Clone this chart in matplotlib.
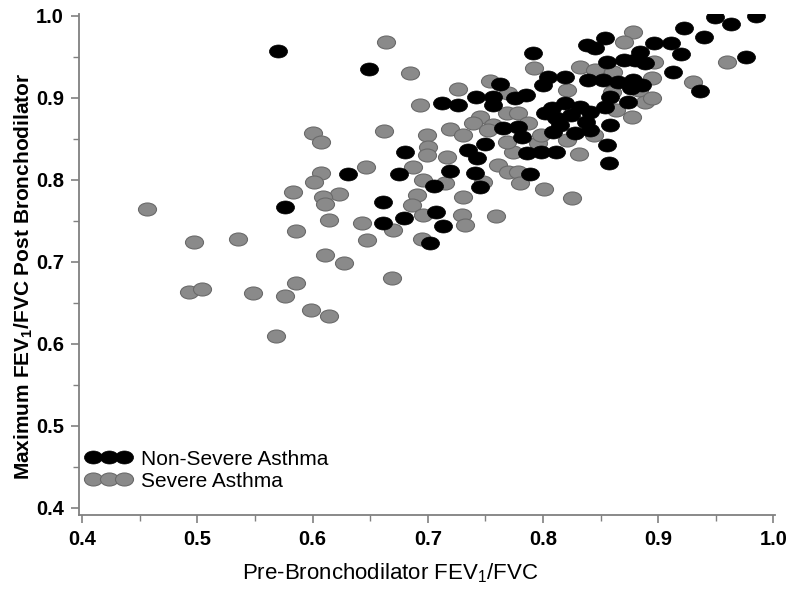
import matplotlib
matplotlib.use("Agg")
import matplotlib.pyplot as plt
import matplotlib.transforms as mtransforms
from matplotlib.path import Path
from matplotlib.ticker import MultipleLocator, FormatStrFormatter

plt.rcParams['font.family'] = ['Liberation Sans', 'DejaVu Sans']
plt.rcParams['mathtext.fontset'] = 'custom'
plt.rcParams['mathtext.rm'] = 'Liberation Sans'
plt.rcParams['mathtext.bf'] = 'Liberation Sans:bold'

# Non-severe asthma (black)
nonsevere_x = [0.570, 0.649, 0.631, 0.675, 0.576, 0.661, 0.661, 0.985, 0.949, 0.963,
               0.922, 0.940, 0.976, 0.920, 0.913, 0.936, 0.896, 0.911, 0.854, 0.838,
               0.845, 0.791, 0.856, 0.870, 0.884, 0.880, 0.889, 0.804, 0.819, 0.800,
               0.839, 0.852, 0.865, 0.878, 0.886, 0.876, 0.858, 0.874, 0.854, 0.763,
               0.757, 0.742, 0.757, 0.785, 0.776, 0.7125, 0.726, 0.808, 0.819, 0.832,
               0.841, 0.811, 0.824, 0.837, 0.815, 0.802, 0.858, 0.765, 0.778, 0.782,
               0.809, 0.828, 0.841, 0.856, 0.857, 0.735, 0.750, 0.743, 0.680, 0.786,
               0.798, 0.811, 0.789, 0.719, 0.741, 0.745, 0.705, 0.707, 0.679, 0.713,
               0.702]
nonsevere_y = [0.957, 0.935, 0.807, 0.807, 0.767, 0.773, 0.748, 1.000, 0.999, 0.990,
               0.985, 0.974, 0.950, 0.954, 0.932, 0.909, 0.967, 0.967, 0.973, 0.965,
               0.961, 0.955, 0.944, 0.946, 0.956, 0.946, 0.943, 0.926, 0.926, 0.916,
               0.922, 0.922, 0.920, 0.922, 0.916, 0.912, 0.901, 0.895, 0.889, 0.917,
               0.901, 0.901, 0.891, 0.904, 0.900, 0.894, 0.891, 0.888, 0.894, 0.889,
               0.883, 0.876, 0.879, 0.871, 0.867, 0.882, 0.867, 0.863, 0.865, 0.852,
               0.859, 0.857, 0.861, 0.843, 0.821, 0.837, 0.844, 0.827, 0.834, 0.833,
               0.834, 0.834, 0.807, 0.811, 0.809, 0.791, 0.793, 0.761, 0.754, 0.744,
               0.723]

# Severe asthma (grey)
severe_x = [0.664, 0.600, 0.607, 0.662, 0.646, 0.607, 0.601, 0.583, 0.623, 0.609,
            0.611, 0.456, 0.614, 0.643, 0.670, 0.586, 0.497, 0.535, 0.647, 0.611,
            0.627, 0.669, 0.586, 0.493, 0.504, 0.548, 0.576, 0.599, 0.614, 0.568,
            0.878, 0.870, 0.896, 0.960, 0.930, 0.685, 0.792, 0.832, 0.845, 0.861,
            0.895, 0.754, 0.726, 0.770, 0.769, 0.693, 0.883, 0.860, 0.889, 0.863,
            0.877, 0.778, 0.787, 0.745, 0.739, 0.757, 0.699, 0.719, 0.731, 0.700,
            0.796, 0.844, 0.821, 0.774, 0.699, 0.717, 0.761, 0.770, 0.687, 0.696,
            0.715, 0.748, 0.691, 0.731, 0.686, 0.696, 0.730, 0.732, 0.759, 0.695,
            0.831, 0.778, 0.780, 0.801, 0.825, 0.895, 0.821, 0.798, 0.769, 0.752]
severe_y = [0.968, 0.857, 0.846, 0.860, 0.816, 0.809, 0.798, 0.785, 0.783, 0.779,
            0.771, 0.765, 0.751, 0.748, 0.739, 0.738, 0.724, 0.728, 0.727, 0.709,
            0.699, 0.680, 0.674, 0.663, 0.667, 0.662, 0.659, 0.641, 0.634, 0.610,
            0.980, 0.968, 0.944, 0.944, 0.920, 0.930, 0.937, 0.938, 0.934, 0.932,
            0.924, 0.921, 0.911, 0.906, 0.882, 0.891, 0.910, 0.907, 0.895, 0.885,
            0.877, 0.882, 0.870, 0.877, 0.870, 0.867, 0.855, 0.862, 0.855, 0.840,
            0.845, 0.855, 0.849, 0.834, 0.830, 0.828, 0.818, 0.810, 0.816, 0.800,
            0.796, 0.798, 0.782, 0.779, 0.770, 0.757, 0.757, 0.745, 0.756, 0.728,
            0.832, 0.810, 0.796, 0.789, 0.778, 0.900, 0.910, 0.855, 0.846, 0.861]

# ellipse marker, a bit wider than tall
ellipse = Path.unit_circle().transformed(mtransforms.Affine2D().scale(1.0, 0.72))

fig = plt.figure(figsize=(8, 5.96), dpi=100)
ax = fig.add_axes([0.099, 0.136, 0.870, 0.8405])

sev, = ax.plot(severe_x, severe_y, linestyle='none', marker=ellipse, markersize=13,
               markerfacecolor='#8a8a8a', markeredgecolor='#6a6a6a', markeredgewidth=0.8,
               label='Severe Asthma')
non, = ax.plot(nonsevere_x, nonsevere_y, linestyle='none', marker=ellipse, markersize=13,
               markerfacecolor='black', markeredgecolor='black', markeredgewidth=0.5,
               label='Non-Severe Asthma')

ax.set_xlim(0.3974, 1.0016)
ax.set_ylim(0.3915, 1.0024)

for side in ['top', 'right']:
    ax.spines[side].set_visible(False)
for side in ['left', 'bottom']:
    ax.spines[side].set_color('#808080')
    ax.spines[side].set_linewidth(1.3)

ax.xaxis.set_major_locator(MultipleLocator(0.1))
ax.xaxis.set_minor_locator(MultipleLocator(0.05))
ax.yaxis.set_major_locator(MultipleLocator(0.1))
ax.yaxis.set_minor_locator(MultipleLocator(0.05))
ax.xaxis.set_major_formatter(FormatStrFormatter('%.1f'))
ax.yaxis.set_major_formatter(FormatStrFormatter('%.1f'))
ax.tick_params(which='major', direction='out', length=6, width=1.2, color='#808080',
               labelsize=14.5, pad=5)
ax.tick_params(which='minor', direction='out', length=4, width=1.0, color='#808080')
for lab in ax.get_xticklabels() + ax.get_yticklabels():
    lab.set_fontweight('bold')

ax.set_xlabel(r'Pre-Bronchodilator FEV$_1$/FVC', fontsize=16)
ax.set_ylabel(r'Maximum FEV$_\mathbf{1}$/FVC Post Bronchodilator', fontsize=15,
              fontweight='bold')
ax.xaxis.set_label_coords(0.447, -0.092)
ax.yaxis.set_label_coords(-0.064, 0.477)

ax.legend(handles=[non, sev], loc='upper left', bbox_to_anchor=(0.0115, 0.1305),
          frameon=False, numpoints=3, fontsize=15, handlelength=2.09,
          handletextpad=0.5, labelspacing=0.15, borderpad=0, borderaxespad=0)

fig.savefig('out.png', dpi=100)
